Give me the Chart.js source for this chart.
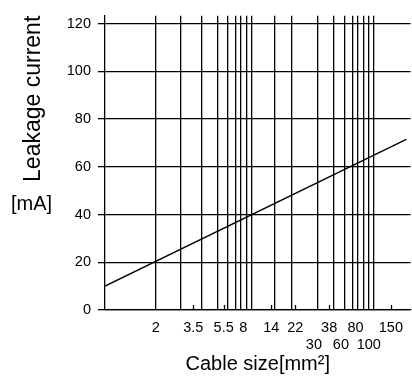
<!DOCTYPE html>
<html>
<head>
<meta charset="utf-8">
<script src="https://cdn.jsdelivr.net/npm/chart.js@4/dist/chart.umd.min.js"></script>
<style>
  html,body{margin:0;padding:0;background:#fff;}
  canvas{display:block;}
</style>
</head>
<body>
<canvas id="chart" width="412" height="376"></canvas>
<script>
// x axis is logarithmic; positions below are read off the drawing (it is not an exact log grid)
const X_MIN = 0.788, X_MAX = 215;
const GRID_X = [2, 3.14, 4.61, 6.24, 7.5, 8.74, 9.58, 10.6, 11.7, 17.9, 24.1, 39.1, 52.7, 64.4, 74.6, 82.1, 90.6, 100, 109];

// cable size labels, where they sit on the axis, which row, and whether a small tick marks them
const SIZE_LABELS = ['2','3.5','5.5','8','14','22','30','38','60','80','100','150'];
const SIZE_AT     = [2, 3.98, 6.96, 10.0, 16.7, 25.9, 36.5, 48.3, 59.9, 78.3, 100, 150];
const SIZE_ROW    = [0, 0, 0, 0, 0, 0, 1, 0, 1, 0, 1, 0];
const SIZE_MARK   = [0, 1, 1, 0, 1, 1, 0, 1, 0, 0, 0, 1];

const Y_TICKS = [0, 20, 40, 60, 80, 100, 120];
const Y_MAX = 123.3;

// leakage current line
const LINE_X = [0.788, 199];
const LINE_Y = [10, 71.5];

const FONT = '"Liberation Sans", Arial, Helvetica, sans-serif';
const INK = '#000';

function near(a, b){ return Math.abs(a - b) < 1e-6 * Math.max(1, Math.abs(b)); }

const allX = [...new Set(GRID_X.concat(SIZE_AT))].sort((a,b)=>a-b);

const extras = {
  id: 'extras',
  afterDraw(chart){
    const {ctx, chartArea, scales} = chart;
    const x = scales.x;
    ctx.save();
    ctx.strokeStyle = INK; ctx.lineWidth = 1.3;
    SIZE_AT.forEach((v,i)=>{
      if(!SIZE_MARK[i]) return;
      const px = Math.round(x.getPixelForValue(v)) + 0.5;
      ctx.beginPath(); ctx.moveTo(px, chartArea.bottom); ctx.lineTo(px, chartArea.bottom - 5); ctx.stroke();
    });
    ctx.fillStyle = INK;
    ctx.font = '20px ' + FONT;
    ctx.textAlign = 'center'; ctx.textBaseline = 'middle';
    ctx.fillText('[mA]', 31.5, 204);
    ctx.restore();
  }
};

new Chart(document.getElementById('chart').getContext('2d'), {
  type: 'line',
  data: {
    datasets: [{
      data: LINE_X.map((v,i)=>({x: v, y: LINE_Y[i]})),
      borderColor: INK, borderWidth: 1.4, pointRadius: 0, fill: false, tension: 0
    }]
  },
  options: {
    responsive: false, animation: false, devicePixelRatio: 1,
    layout: {padding: {top: 14, right: 0, bottom: 0, left: 0}, autoPadding: false},
    plugins: {legend: {display: false}, tooltip: {enabled: false}},
    scales: {
      x: {
        type: 'logarithmic', min: X_MIN, max: X_MAX,
        afterBuildTicks: s => { s.ticks = allX.map(v => ({value: v})); },
        afterFit: s => { s.height = 66; },
        grid: {
          color: c => GRID_X.some(g => near(g, c.tick.value)) ? INK : 'rgba(0,0,0,0)',
          lineWidth: 1.3, drawTicks: false
        },
        border: {display: true, color: INK, width: 1.3},
        ticks: {
          autoSkip: false, maxRotation: 0, minRotation: 0, padding: 9,
          color: INK, font: {family: FONT, size: 14.5},
          callback: v => {
            const i = SIZE_AT.findIndex(s => near(s, v));
            if(i < 0) return '';
            return SIZE_ROW[i] ? ['', SIZE_LABELS[i]] : SIZE_LABELS[i];
          }
        },
        title: {
          display: true, text: 'Cable size[mm²]', color: INK,
          font: {family: FONT, size: 20, lineHeight: 1}, padding: {top: 0, bottom: 1.5}
        }
      },
      y: {
        min: 0, max: Y_MAX,
        afterBuildTicks: s => { s.ticks = Y_TICKS.map(v => ({value: v})); },
        afterFit: s => { s.width = 105; },
        grid: {color: INK, lineWidth: 1.3, tickLength: 7},
        border: {display: true, color: INK, width: 1.3},
        ticks: {color: INK, padding: 7, font: {family: FONT, size: 14.5}},
        title: {
          display: true, text: 'Leakage current', align: 'end', color: INK,
          font: {family: FONT, size: 23, lineHeight: 1}, padding: {top: 22, bottom: 0}
        }
      }
    }
  },
  plugins: [extras]
});
</script>
</body>
</html>
